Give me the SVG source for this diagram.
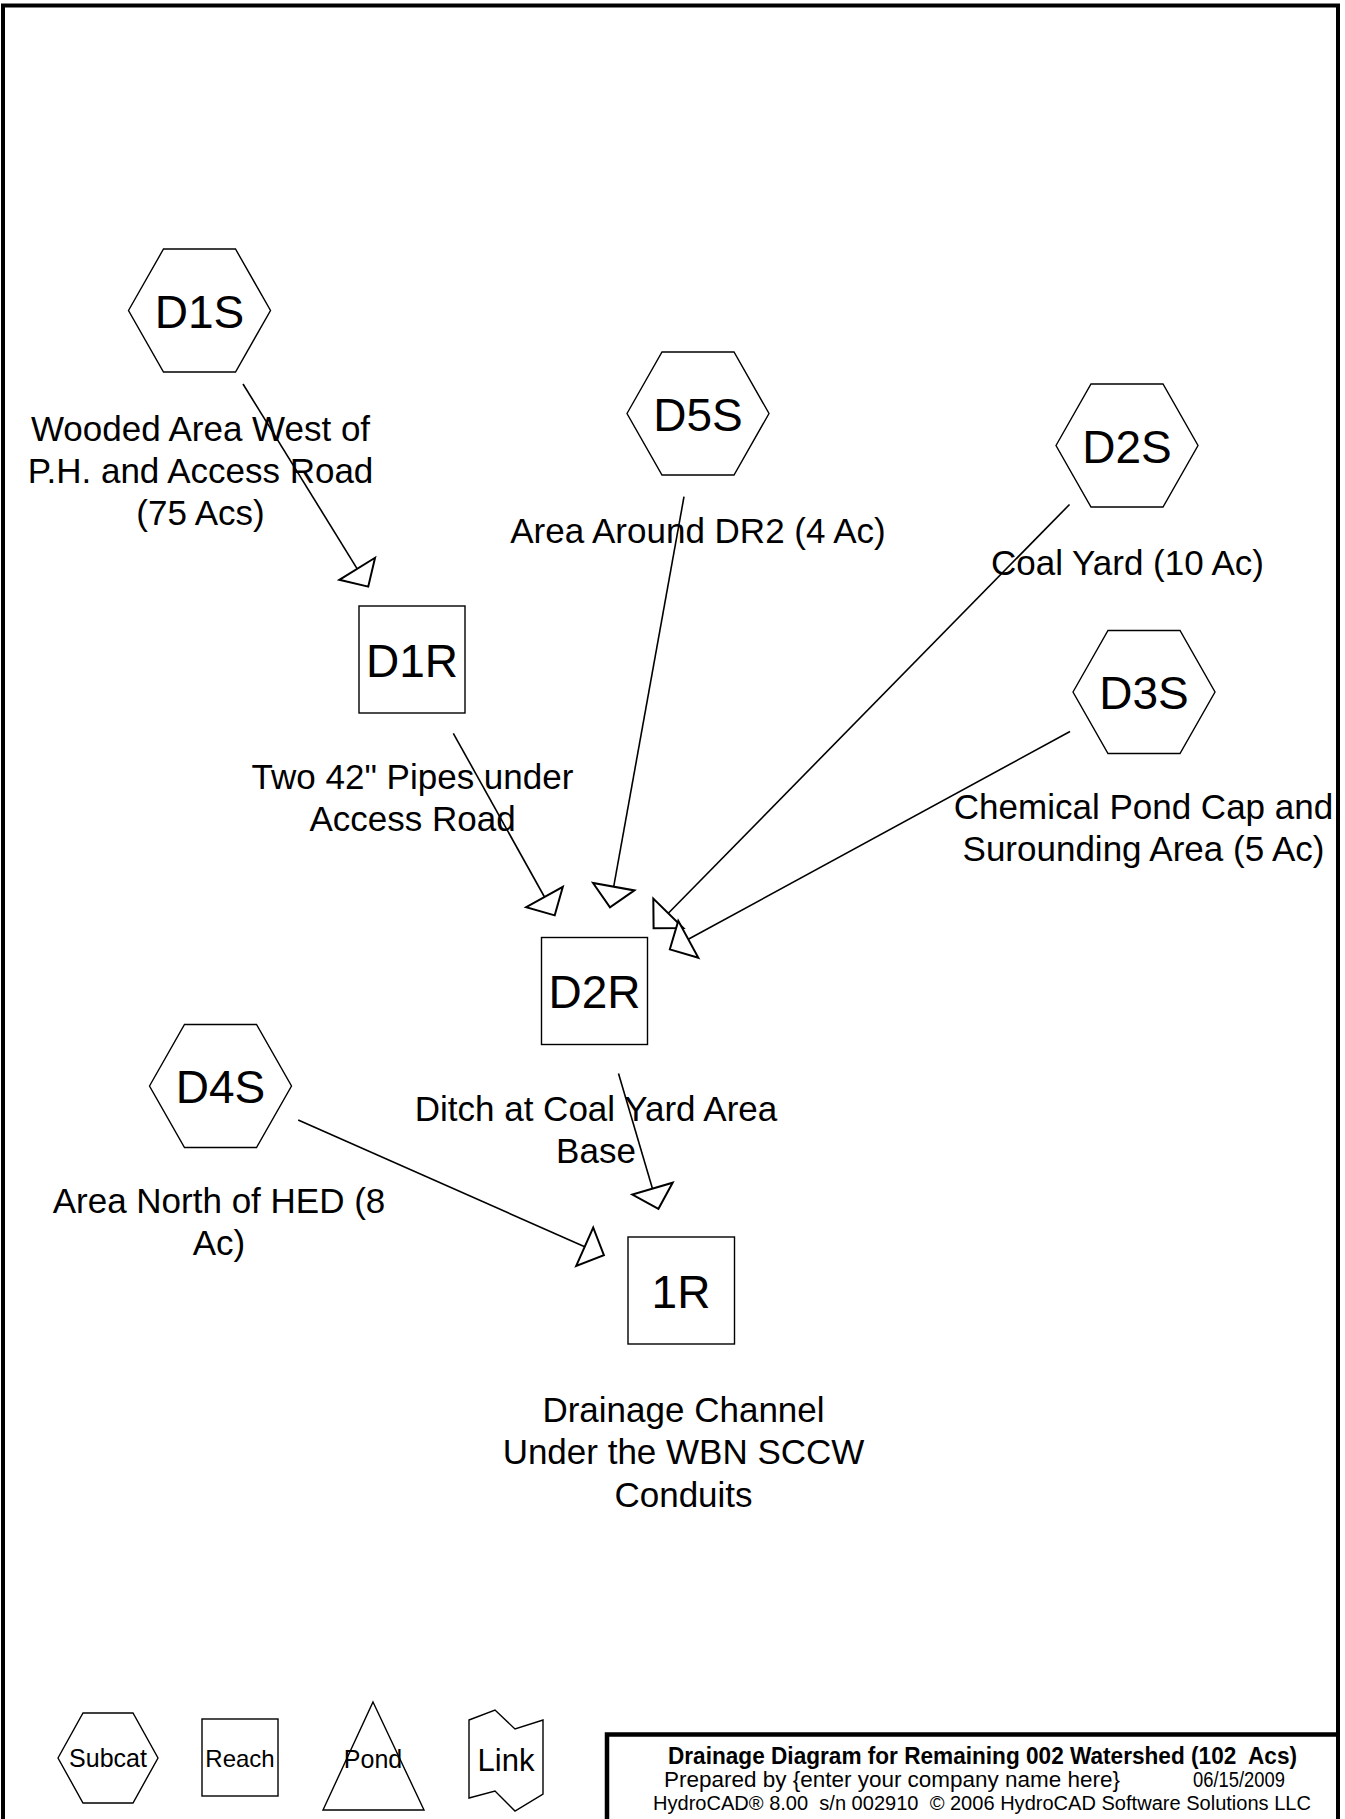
<svg xmlns="http://www.w3.org/2000/svg" width="1345" height="1819" viewBox="0 0 1345 1819">
<defs>
<style>
.frame{fill:none;stroke:#000;stroke-width:4}
.node{fill:#fff;stroke:#000;stroke-width:1.4}
.id{font-family:"Liberation Sans",Arial,sans-serif;font-size:46px;text-anchor:middle;fill:#000}
.lbl{font-family:"Liberation Sans",Arial,sans-serif;font-size:35px;text-anchor:middle;fill:#000}
.leg{font-family:"Liberation Sans",Arial,sans-serif;font-size:25px;text-anchor:middle;fill:#000}
.conn{fill:none;stroke:#000;stroke-width:1.6;marker-end:url(#arr)}
.t1{font-family:"Liberation Sans",Arial,sans-serif;font-size:23px;font-weight:bold;fill:#000;white-space:pre}
.t2{font-family:"Liberation Sans",Arial,sans-serif;font-size:22px;fill:#000;white-space:pre}
.t3{font-family:"Liberation Sans",Arial,sans-serif;font-size:20px;fill:#000;white-space:pre}
</style>
<marker id="arr" markerUnits="userSpaceOnUse" markerWidth="30" markerHeight="50" refX="0" refY="0" orient="auto" overflow="visible">
<path d="M0,-21 L21,0 L0,21 Z" fill="#fff" stroke="#000" stroke-width="2" stroke-linejoin="miter"/>
</marker>
</defs>
<rect x="0" y="0" width="1345" height="1819" fill="#fff"/>
<path class="frame" d="M3,1819 V5.5 H1338 V1819"/>

<g id="connectors">
<line class="conn" x1="243" y1="384" x2="357.2" y2="568.8"/>
<line class="conn" x1="453.3" y1="733.3" x2="544.5" y2="897"/>
<line class="conn" x1="684" y1="496.7" x2="613.7" y2="886.7"/>
<line class="conn" x1="1069.5" y1="504.5" x2="668.3" y2="913.3"/>
<line class="conn" x1="1070" y1="731.5" x2="688.3" y2="939.3"/>
<line class="conn" x1="618.5" y1="1073.4" x2="652.5" y2="1188.7"/>
<line class="conn" x1="298.2" y1="1119.9" x2="584.7" y2="1246.7"/>
</g>

<g id="D1S">
<polygon class="node" points="128.5,310.5 163.5,249 235.5,249 270.5,310.5 235.5,372 163.5,372"/>
<text class="id" x="199.5" y="327.5">D1S</text>
<text class="lbl" x="200.5" y="441">Wooded Area West of</text>
<text class="lbl" x="200.5" y="483">P.H. and Access Road</text>
<text class="lbl" x="200.5" y="525">(75 Acs)</text>
</g>

<g id="D1R">
<rect class="node" x="359" y="606" width="106" height="107"/>
<text class="id" x="412" y="677">D1R</text>
<text class="lbl" x="412.5" y="789">Two 42" Pipes under</text>
<text class="lbl" x="412.5" y="831">Access Road</text>
</g>

<g id="D5S">
<polygon class="node" points="627,413.5 662,352 734,352 769,413.5 734,475 662,475"/>
<text class="id" x="698" y="430.5">D5S</text>
<text class="lbl" x="698" y="542.5">Area Around DR2 (4 Ac)</text>
</g>

<g id="D2S">
<polygon class="node" points="1056,445.5 1091,384 1163,384 1198,445.5 1163,507 1091,507"/>
<text class="id" x="1127" y="462.5">D2S</text>
<text class="lbl" x="1127.5" y="575">Coal Yard (10 Ac)</text>
</g>

<g id="D3S">
<polygon class="node" points="1073,692 1108,630.5 1180,630.5 1215,692 1180,753.5 1108,753.5"/>
<text class="id" x="1144" y="709">D3S</text>
<text class="lbl" x="1143.5" y="819">Chemical Pond Cap and</text>
<text class="lbl" x="1143.5" y="861">Surounding Area (5 Ac)</text>
</g>

<g id="D2R">
<rect class="node" x="541.5" y="937.5" width="106" height="107"/>
<text class="id" x="594.5" y="1008">D2R</text>
<text class="lbl" x="596" y="1121">Ditch at Coal Yard Area</text>
<text class="lbl" x="596" y="1162.5">Base</text>
</g>

<g id="D4S">
<polygon class="node" points="149.5,1086 184.5,1024.5 256.5,1024.5 291.5,1086 256.5,1147.5 184.5,1147.5"/>
<text class="id" x="220.5" y="1103">D4S</text>
<text class="lbl" x="219" y="1213">Area North of HED (8</text>
<text class="lbl" x="219" y="1255">Ac)</text>
</g>

<g id="1R">
<rect class="node" x="628" y="1237" width="106.5" height="107"/>
<text class="id" x="681" y="1307.5">1R</text>
<text class="lbl" x="683.5" y="1422">Drainage Channel</text>
<text class="lbl" x="683.5" y="1464">Under the WBN SCCW</text>
<text class="lbl" x="683.5" y="1506.5">Conduits</text>
</g>

<g id="legend">
<polygon class="node" points="58,1758 83,1713 133,1713 158,1758 133,1803 83,1803"/>
<text class="leg" x="108" y="1767">Subcat</text>
<rect class="node" x="202" y="1719" width="76" height="77"/>
<text class="leg" x="240" y="1767" style="font-size:24px">Reach</text>
<polygon class="node" points="373,1702 424,1810 323,1810"/>
<text class="leg" x="373" y="1768">Pond</text>
<polygon class="node" points="469,1720 495,1710 515,1729 543,1720 543,1794 515,1811 495,1791 469,1798"/>
<text class="leg" x="506" y="1771" style="font-size:31px">Link</text>
</g>

<g id="title">
<path d="M607,1819 V1734.5 H1338" fill="none" stroke="#000" stroke-width="4.5"/>
<text class="t1" x="668" y="1764" textLength="629" lengthAdjust="spacingAndGlyphs">Drainage Diagram for Remaining 002 Watershed (102  Acs)</text>
<text class="t2" x="664" y="1787" textLength="456" lengthAdjust="spacingAndGlyphs">Prepared by {enter your company name here}</text>
<text class="t2" x="1193" y="1787" textLength="92" lengthAdjust="spacingAndGlyphs">06/15/2009</text>
<text class="t3" x="653" y="1810" textLength="658" lengthAdjust="spacingAndGlyphs">HydroCAD® 8.00  s/n 002910  © 2006 HydroCAD Software Solutions LLC</text>
</g>
</svg>
